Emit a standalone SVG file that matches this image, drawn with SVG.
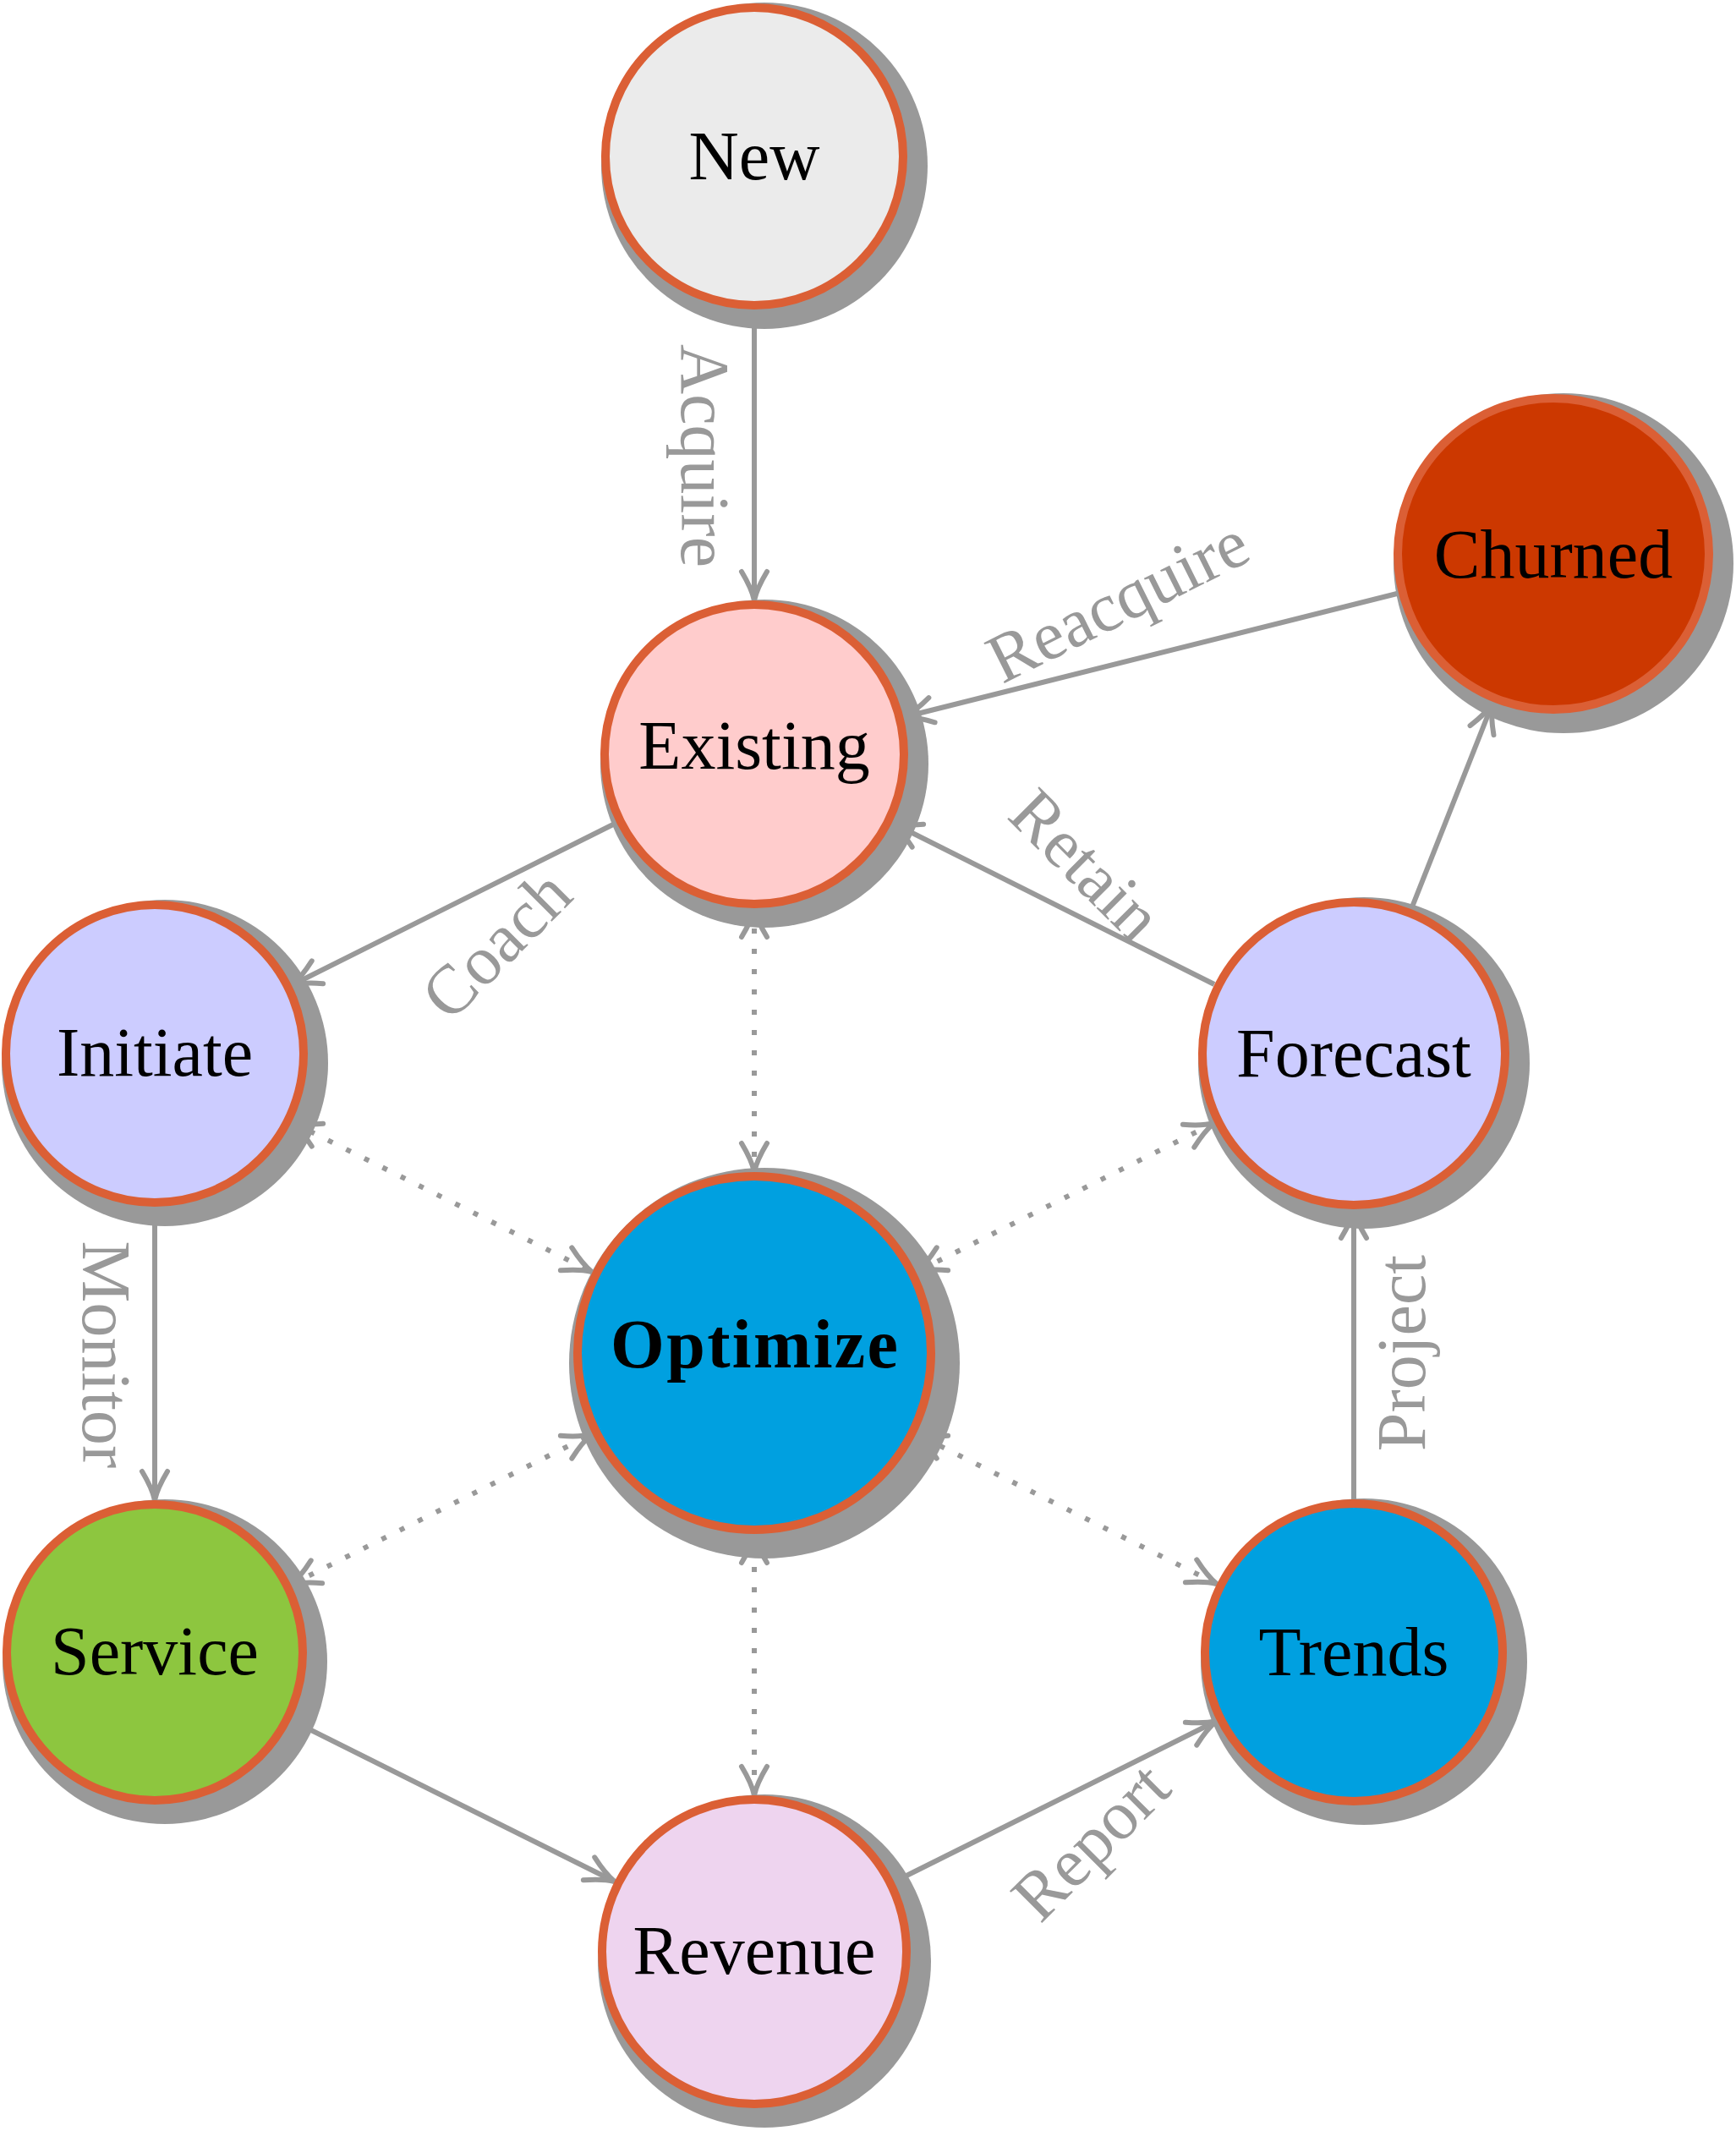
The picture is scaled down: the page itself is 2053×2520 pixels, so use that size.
<svg xmlns="http://www.w3.org/2000/svg" width="2053" height="2520" viewBox="0 0 2053 2520">
<style>
.shadow{fill:#999999;}
.node{stroke:#DB5F35;stroke-width:10;}
.nt{font-family:"Liberation Serif","Times New Roman",serif;font-size:82px;fill:#000000;text-anchor:middle;}
.bold{font-weight:bold;}
.edge{fill:none;stroke:#999999;stroke-width:6;}
.dot{stroke-dasharray:6 18;}
.lbl{font-family:"Liberation Serif","Times New Roman",serif;font-size:82px;fill:#999999;text-anchor:middle;}
</style>
<defs>
<marker id="arr" viewBox="-42 -22 48 44" refX="0" refY="0" markerWidth="48" markerHeight="44" markerUnits="userSpaceOnUse" orient="auto-start-reverse">
<path d="M-34,-15 Q-14,-3 0,0 Q-14,3 -34,15" fill="none" stroke="#999999" stroke-width="6" stroke-linecap="round" stroke-linejoin="round"/>
</marker>
</defs>
<rect width="2053" height="2520" fill="#ffffff"/>
<g id="connectors">
<line class="edge" x1="892" y1="366" x2="892" y2="710" marker-end="url(#arr)"/>
<line class="edge" x1="1652" y1="702" x2="1069" y2="848" marker-end="url(#arr)"/>
<line class="edge" x1="1436" y1="1164" x2="1055" y2="973" marker-end="url(#arr)"/>
<line class="edge" x1="1669" y1="1075" x2="1765" y2="832" marker-end="url(#arr)"/>
<line class="edge" x1="729" y1="973" x2="345" y2="1165" marker-end="url(#arr)"/>
<line class="edge" x1="183" y1="1427" x2="183" y2="1774" marker-end="url(#arr)"/>
<line class="edge" x1="344" y1="2034" x2="727" y2="2225" marker-end="url(#arr)"/>
<line class="edge" x1="1058" y1="2225" x2="1439" y2="2035" marker-end="url(#arr)"/>
<line class="edge" x1="1601" y1="1773" x2="1601" y2="1430" marker-end="url(#arr)"/>
<line class="edge dot" x1="892" y1="1074" x2="892" y2="1386" marker-start="url(#arr)" marker-end="url(#arr)"/>
<line class="edge dot" x1="345" y1="1327" x2="700" y2="1504" marker-start="url(#arr)" marker-end="url(#arr)"/>
<line class="edge dot" x1="1436" y1="1328" x2="1084" y2="1504" marker-start="url(#arr)" marker-end="url(#arr)"/>
<line class="edge dot" x1="344" y1="1874" x2="700" y2="1696" marker-start="url(#arr)" marker-end="url(#arr)"/>
<line class="edge dot" x1="1439" y1="1873" x2="1084" y2="1696" marker-start="url(#arr)" marker-end="url(#arr)"/>
<line class="edge dot" x1="892" y1="2123" x2="892" y2="1814" marker-start="url(#arr)" marker-end="url(#arr)"/>
<text class="lbl" transform="translate(833,539) rotate(90)" y="27">Acquire</text>
<text class="lbl" transform="translate(1322,711) rotate(-26.5)" y="27">Reacquire</text>
<text class="lbl" transform="translate(1284,1023) rotate(45)" y="27">Retain</text>
<text class="lbl" transform="translate(587,1117) rotate(-45)" y="27">Coach</text>
<text class="lbl" transform="translate(125,1602) rotate(90)" y="27">Monitor</text>
<text class="lbl" transform="translate(1658,1600) rotate(-90)" y="27">Project</text>
<text class="lbl" transform="translate(1290,2178) rotate(-45)" y="27">Report</text>
</g>
<g id="node-new">
<circle class="shadow" cx="904" cy="196" r="193"/>
<circle class="node" cx="892" cy="185" r="176" fill="#EBEBEB"/>
<text class="nt" x="892" y="212">New</text>
</g>
<g id="node-existing">
<circle class="shadow" cx="904" cy="903" r="194"/>
<circle class="node" cx="892" cy="892" r="177" fill="#FFCCCC"/>
<text class="nt" x="892" y="909">Existing</text>
</g>
<g id="node-churned">
<circle class="shadow" cx="1849" cy="666" r="201"/>
<circle class="node" cx="1837" cy="655" r="184" fill="#CC3800"/>
<text class="nt" x="1837" y="683">Churned</text>
</g>
<g id="node-initiate">
<circle class="shadow" cx="195" cy="1257" r="193"/>
<circle class="node" cx="183" cy="1246" r="176" fill="#CCCCFF"/>
<text class="nt" x="183" y="1272">Initiate</text>
</g>
<g id="node-forecast">
<circle class="shadow" cx="1613" cy="1257" r="196"/>
<circle class="node" cx="1601" cy="1246" r="179" fill="#CCCCFF"/>
<text class="nt" x="1601" y="1273">Forecast</text>
</g>
<g id="node-optimize">
<circle class="shadow" cx="904" cy="1612" r="231"/>
<circle class="node" cx="892" cy="1600" r="209" fill="#00A0E0"/>
<text class="nt bold" x="892" y="1617" textLength="340" lengthAdjust="spacing">Optimize</text>
</g>
<g id="node-service">
<circle class="shadow" cx="195" cy="1965" r="192"/>
<circle class="node" cx="183" cy="1954" r="175" fill="#8DC63F"/>
<text class="nt" x="183" y="1980">Service</text>
</g>
<g id="node-trends">
<circle class="shadow" cx="1613" cy="1965" r="193"/>
<circle class="node" cx="1601" cy="1954" r="176" fill="#00A0E0"/>
<text class="nt" x="1601" y="1981">Trends</text>
</g>
<g id="node-revenue">
<circle class="shadow" cx="904" cy="2319" r="197"/>
<circle class="node" cx="892" cy="2308" r="180" fill="#EED4EF"/>
<text class="nt" x="892" y="2334">Revenue</text>
</g>
</svg>
